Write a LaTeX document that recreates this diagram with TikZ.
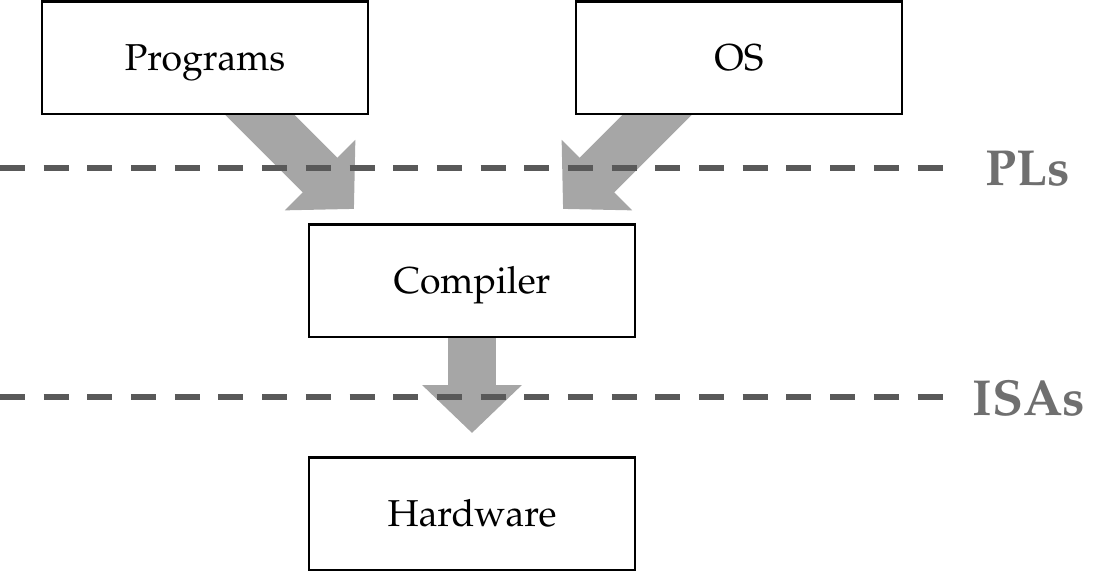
\documentclass[tikz,border=0pt]{standalone}
\usepackage[T1]{fontenc}
\usepackage{mathpazo}
\usetikzlibrary{arrows.meta,backgrounds}

\definecolor{arrowgray}{HTML}{A6A6A6}
\definecolor{linegray}{HTML}{595959}
\definecolor{labelgray}{HTML}{6F6F6F}

\begin{document}
\begin{tikzpicture}
[ x=0.02cm, y=-0.02cm
, box/.style={rectangle, draw, line width=1.15pt, fill=white, minimum width=6.52cm, minimum height=2.26cm, inner sep=0pt, text height=14.7pt, text depth=0pt, font=\fontsize{21.3}{25}\selectfont}
, layer/.style={draw=linegray, line width=3.4pt, dash pattern=on 0.5cm off 0.374cm}
, layername/.style={text=labelgray, inner sep=0pt, text height=19.2pt, text depth=0pt, font=\fontsize{28.8}{32}\selectfont\bfseries}
, bigarrow/.style={draw=arrowgray, line width=0.98cm, -{Triangle[length=0.96cm, width=1.94cm, fill=arrowgray]}}
]
\useasboundingbox (0,0) rectangle (1117,573);
% Boxes:
\node (prog) [box] at (205,58) {Programs};
\node (os)   [box] at (739,58) {OS};
\node (comp) [box] at (472,281) {Compiler};
\node (hw)   [box] at (472,514) {Hardware};
% Layer lines:
\coordinate (pl0) at (0,168);
\coordinate (pl1) at (943,168);
\coordinate (isa0) at (0,397);
\coordinate (isa1) at (943,397);
\draw [layer] (pl0) -- (pl1);
\draw [layer] (isa0) -- (isa1);
\node (pls)  [layername] at (1028,168.5) {PLs};
\node (isas) [layername] at (1029,398.5) {ISAs};
% Arrows behind the boxes:
\coordinate (from1) at (224,79);
\coordinate (tip1) at (354,209);
\coordinate (from2) at (693,79);
\coordinate (tip2) at (563,209);
\coordinate (tip3) at (472,433);
\begin{scope}[on background layer]
\draw [bigarrow] (from1) -- (tip1);
\draw [bigarrow] (from2) -- (tip2);
\draw [bigarrow] (comp) -- (tip3);
\end{scope}
\end{tikzpicture}
\end{document}
